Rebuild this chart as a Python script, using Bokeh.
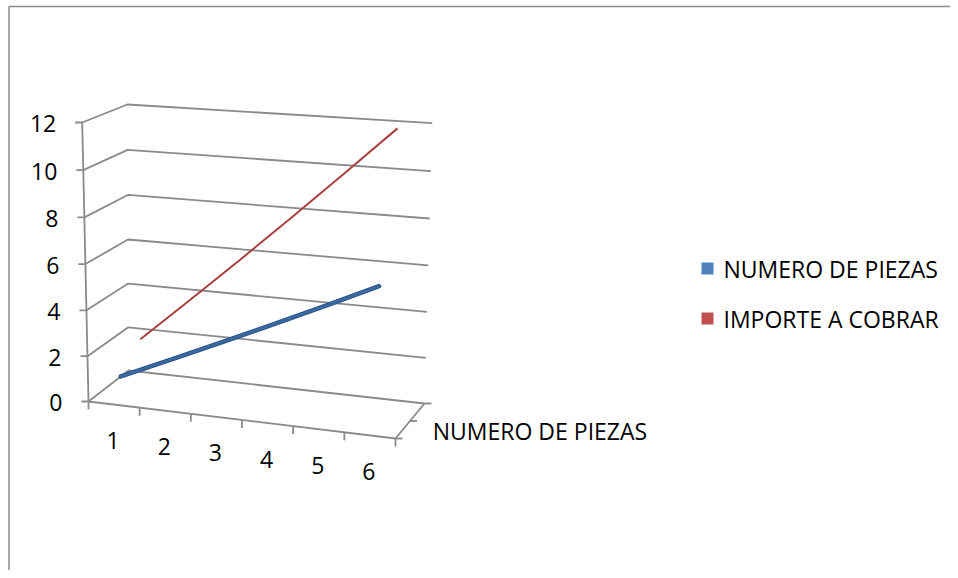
from bokeh.plotting import figure
from bokeh.models import Range1d
from bokeh.embed import file_html
from bokeh.resources import INLINE
from bokeh.core.properties import value

# ---------------- data ----------------
categories = ["1", "2", "3", "4", "5", "6"]
series_names = ["NUMERO DE PIEZAS", "IMPORTE A COBRAR"]
numero_de_piezas = [1, 2, 3, 4, 5, 6]
importe_a_cobrar = [2, 4, 6, 8, 10, 12]
value_ticks = [0, 2, 4, 6, 8, 10, 12]
depth_labels = ["NUMERO DE PIEZAS"]  # only the first depth label is shown

# ---------------- layout / projection (pixels) ----------------
W, H = 950, 570
VMAX = 12.0
CURVE = 0.03
SERIES_DEPTH = [0.18, 0.68]
# corners keyed by (u, d, top)
C = {
    (0, 0, 0): (88.0, 401.0),
    (1, 0, 0): (395.0, 438.0),
    (0, 1, 0): (128.0, 370.0),
    (1, 1, 0): (424.0, 403.0),
    (0, 0, 1): (81.7, 122.0),
    (1, 0, 1): (404.0, 144.0),
    (0, 1, 1): (127.0, 104.0),
    (1, 1, 1): (431.7, 122.7),
}


def proj(u, v, d):
    t = v / VMAX
    t = t + CURVE * t * (t - 1)
    x = y = 0.0
    for (cu, cd, ct), (px, py) in C.items():
        w = (u if cu else 1 - u) * (d if cd else 1 - d) * (t if ct else 1 - t)
        x += w * px
        y += w * py
    return x, y


p = figure(width=W, height=H, output_backend="svg", toolbar_location=None,
           x_range=Range1d(0, W), y_range=Range1d(H, 0), min_border=0)
p.axis.visible = False
p.grid.visible = False
p.outline_line_color = None
p.background_fill_color = "white"
p.border_fill_color = "white"

GRID = "#8a8a8a"
FONT = value("Open Sans")
FS = "23px"
TXT = "#000000"

# chart area border (left and top)
p.line([8.5, 8.5], [H + 20, 6], line_color="#8c8c8c", line_width=1.5)
p.line([8.5, W + 20], [6, 6], line_color="#8c8c8c", line_width=1.5)

# walls: gridlines on left wall and back wall
for v in value_ticks:
    a = proj(0, v, 0)
    b = proj(0, v, 1)
    c = proj(1, v, 1)
    p.line([a[0], b[0], c[0]], [a[1], b[1], c[1]], line_color=GRID, line_width=1.8)

# floor front and right edges
f0 = proj(0, 0, 0)
f1 = proj(1, 0, 0)
f2 = proj(1, 0, 1)
p.line([f0[0], f1[0], f2[0]], [f0[1], f1[1], f2[1]], line_color=GRID, line_width=1.8)

# front vertical value axis
a0 = proj(0, 0, 0)
a1 = proj(0, VMAX, 0)
p.line([a0[0], a1[0]], [a0[1], a1[1]], line_color=GRID, line_width=1.8)

# value ticks and labels
tl_x, tl_y, tl_t = [], [], []
for v in value_ticks:
    x, y = proj(0, v, 0)
    p.line([x - 7, x], [y, y], line_color=GRID, line_width=1.8)
    tl_x.append(x - 26)
    tl_y.append(y + 1)
    tl_t.append(str(v))
p.text(x=tl_x, y=tl_y, text=tl_t, text_font=FONT, text_font_size=FS,
       text_align="right", text_baseline="middle", text_color=TXT)

# category ticks and labels
n = len(categories)
for k in range(n + 1):
    x, y = proj(k / n, 0, 0)
    p.line([x, x], [y, y + 8], line_color=GRID, line_width=1.8)
cx, cy = [], []
for k in range(n):
    x, y = proj((k + 0.5) / n, 0, 0)
    cx.append(x - 1)
    cy.append(y + 36)
p.text(x=cx, y=cy, text=categories, text_font=FONT, text_font_size=FS,
       text_align="center", text_baseline="middle", text_color=TXT)

# depth ticks and label
ns = len(series_names)
for k in range(ns + 1):
    x, y = proj(1, 0, k / ns)
    p.line([x, x + 7], [y, y], line_color=GRID, line_width=1.8)
dx, dy = [], []
for k, lab in enumerate(depth_labels):
    x, y = proj(1, 0, (k + 0.5) / ns)
    dx.append(x + 30)
    dy.append(y + 1)
p.text(x=dx, y=dy, text=depth_labels, text_font=FONT, text_font_size=FS,
       text_align="left", text_baseline="middle", text_color=TXT)

# series (back first)
def series_xy(vals, d):
    xs, ys = [], []
    for k, v in enumerate(vals):
        x, y = proj((k + 0.5) / n, v, d)
        xs.append(x)
        ys.append(y)
    return xs, ys

rx, ry = series_xy(importe_a_cobrar, SERIES_DEPTH[1])
p.line(rx, ry, line_color="#a8403d", line_width=2)

bx, by = series_xy(numero_de_piezas, SERIES_DEPTH[0])
p.line(bx, by, line_color="#2a5285", line_width=4.5, line_cap="round")
p.line(bx, by, line_color="#3a6aa6", line_width=2.5, line_cap="round")

# legend
leg_colors = ["#4f81bd", "#c0504d"]
lx = 707
ly = [268, 318]
p.rect(x=[lx, lx], y=ly, width=12, height=12, fill_color=leg_colors, line_color=None)
p.text(x=[723, 723], y=ly, text=series_names, text_font=FONT,
       text_font_size=FS, text_align="left", text_baseline="middle", text_color=TXT)

open("out.html", "w").write(file_html(p, INLINE))
